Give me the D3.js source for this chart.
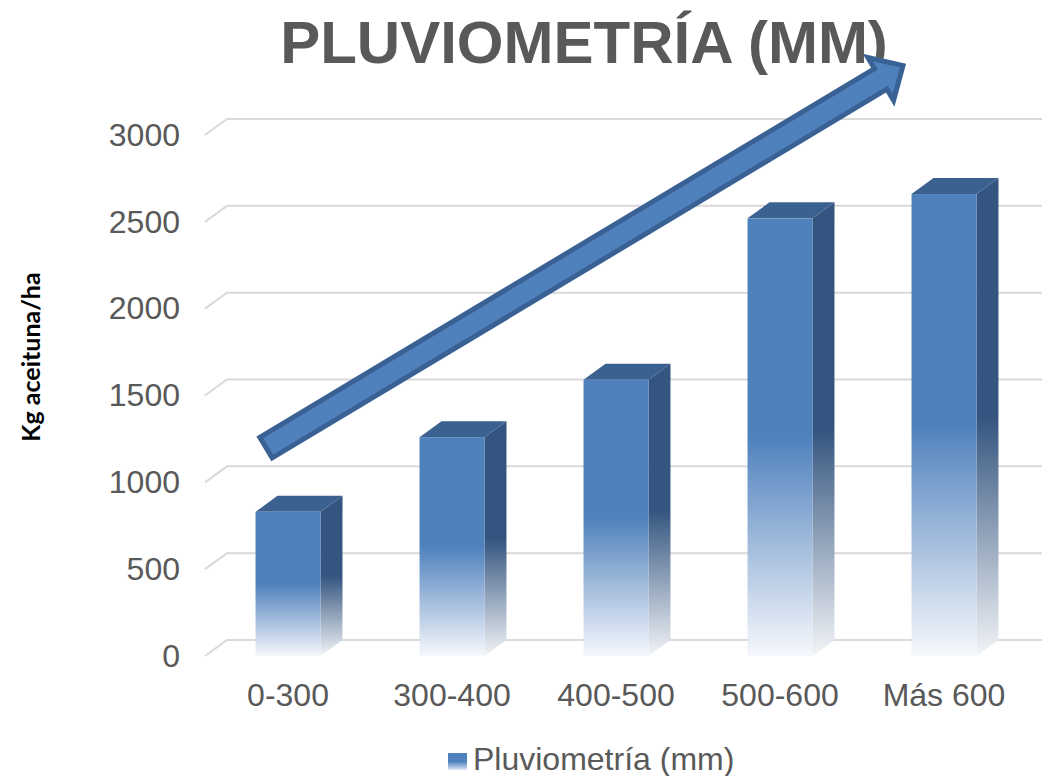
<!DOCTYPE html>
<html>
<head>
<meta charset="utf-8">
<script src="https://cdn.jsdelivr.net/npm/d3@7"></script>
<style>
  html, body { margin: 0; padding: 0; background: #ffffff; }
  svg { display: block; }
</style>
</head>
<body>
<svg id="chart" width="1042" height="776"></svg>
<script>
// Rainfall band vs. olive yield (kg/ha)
const categories = ["0-300", "300-400", "400-500", "500-600", "Más 600"];
const values = [830, 1260, 1590, 2520, 2660];
const yTicks = [0, 500, 1000, 1500, 2000, 2500, 3000];
const chartTitle = "PLUVIOMETRÍA (MM)";
const yTitle = "Kg aceituna/ha";
const seriesName = "Pluviometría (mm)";

const W = 1042, H = 776;
const DX = 22, DY = -16;          // depth offset of the 3D walls and columns
const textColor = "#595959";
const gridColor = "#d9d9d9";
const frontColor = "#4F81BD";
const topColor = "#3B6190";
const sideColor = "#34557F";

const svg = d3.select("#chart");

const x = d3.scaleBand()
  .domain(categories)
  .range([206, 1026])
  .paddingInner(0.604)
  .paddingOuter(0.302);

const y = d3.scaleLinear().domain([0, 3000]).range([656, 135]);

// gradients
const defs = svg.append("defs");
function fadeGradient(id, color, mid, end) {
  const g = defs.append("linearGradient")
    .attr("id", id).attr("x1", 0).attr("y1", 0).attr("x2", 0).attr("y2", 1);
  g.append("stop").attr("offset", "0").attr("stop-color", color);
  g.append("stop").attr("offset", mid).attr("stop-color", color);
  g.append("stop").attr("offset", "1").attr("stop-color", end);
}
fadeGradient("frontFade", frontColor, "0.5", "#f6f8fc");
fadeGradient("sideFade", sideColor, "0.5", "#f2f4f7");
fadeGradient("legendFade", frontColor, "0.5", "#dde7f3");

// back wall gridlines with the left-wall diagonals
const x0 = x.range()[0] - 1;
const grid = svg.append("g");
grid.selectAll("path.grid")
  .data(yTicks)
  .join("path")
  .attr("class", "grid")
  .attr("d", d => `M${x0},${y(d)} L${x0 + DX},${y(d) + DY} L${W},${y(d) + DY}`)
  .attr("fill", "none")
  .attr("stroke", gridColor)
  .attr("stroke-width", 2);

// y axis labels
const yAxis = svg.append("g")
  .attr("transform", `translate(${x0},0)`)
  .call(d3.axisLeft(y).tickValues(yTicks).tickSize(0).tickPadding(25).tickFormat(d3.format("d")));
yAxis.select(".domain").remove();
yAxis.selectAll("text")
  .attr("font-family", "'Liberation Sans', Arial, sans-serif")
  .attr("font-size", 32)
  .attr("fill", textColor);

// x axis labels
const xAxis = svg.append("g")
  .attr("transform", `translate(0,${y(0)})`)
  .call(d3.axisBottom(x).tickSize(0).tickPadding(27));
xAxis.select(".domain").remove();
xAxis.selectAll("text")
  .attr("font-family", "'Liberation Sans', Arial, sans-serif")
  .attr("font-size", 32)
  .attr("fill", textColor);

// 3D columns
const bars = svg.append("g").selectAll("g.bar")
  .data(categories.map((c, i) => ({ c, v: values[i] })))
  .join("g")
  .attr("class", "bar");

bars.append("path")   // side face
  .attr("d", d => {
    const xr = x(d.c) + x.bandwidth(), yt = y(d.v), yb = y(0);
    return `M${xr},${yt} L${xr + DX},${yt + DY} L${xr + DX},${yb + DY} L${xr},${yb} Z`;
  })
  .attr("fill", "url(#sideFade)");

bars.append("path")   // top face
  .attr("d", d => {
    const xl = x(d.c), xr = xl + x.bandwidth(), yt = y(d.v);
    return `M${xl},${yt} L${xl + DX},${yt + DY} L${xr + DX},${yt + DY} L${xr},${yt} Z`;
  })
  .attr("fill", topColor);

bars.append("rect")   // front face
  .attr("x", d => x(d.c))
  .attr("y", d => y(d.v))
  .attr("width", x.bandwidth())
  .attr("height", d => y(0) - y(d.v))
  .attr("fill", "url(#frontFade)");

// chart title
svg.append("text")
  .attr("x", 584)
  .attr("y", 63)
  .attr("text-anchor", "middle")
  .attr("font-family", "'Liberation Sans', Arial, sans-serif")
  .attr("font-weight", "bold")
  .attr("font-size", 60)
  .attr("fill", textColor)
  .text(chartTitle);

// y axis title
svg.append("text")
  .attr("transform", "translate(30,357) rotate(-90)")
  .attr("text-anchor", "middle")
  .attr("dominant-baseline", "central")
  .attr("font-family", "Lato, 'Open Sans', sans-serif")
  .attr("font-weight", "bold")
  .attr("font-size", 25)
  .attr("fill", "#000000")
  .text(yTitle);

// legend
const legend = svg.append("g").attr("transform", "translate(448,753)");
legend.append("rect")
  .attr("width", 19).attr("height", 17)
  .attr("fill", "url(#legendFade)");
legend.append("text")
  .attr("x", 25).attr("y", 17)
  .attr("font-family", "'Liberation Sans', Arial, sans-serif")
  .attr("font-size", 32)
  .attr("fill", textColor)
  .text(seriesName);

// trend arrow from the first column up past the last one
const tail = [x(categories[0]) + x.bandwidth() / 2 - 22, y(1200)];
const tip = [x(categories[categories.length - 1]) + x.bandwidth() / 2 - 41, y(3400)];
const len = Math.hypot(tip[0] - tail[0], tip[1] - tail[1]);
const ang = Math.atan2(tip[1] - tail[1], tip[0] - tail[0]) * 180 / Math.PI;
const headBase = len - 26, shaft = 12, head = 25;
const arrowPts = [[0, -shaft], [headBase, -shaft], [headBase, -head], [len, 0],
                  [headBase, head], [headBase, shaft], [0, shaft]];
svg.append("path")
  .attr("transform", `translate(${tail[0]},${tail[1]}) rotate(${ang})`)
  .attr("d", d3.line()(arrowPts) + "Z")
  .attr("fill", frontColor)
  .attr("stroke", "#3A6194")
  .attr("stroke-width", 5)
  .attr("stroke-linejoin", "miter");
</script>
</body>
</html>
